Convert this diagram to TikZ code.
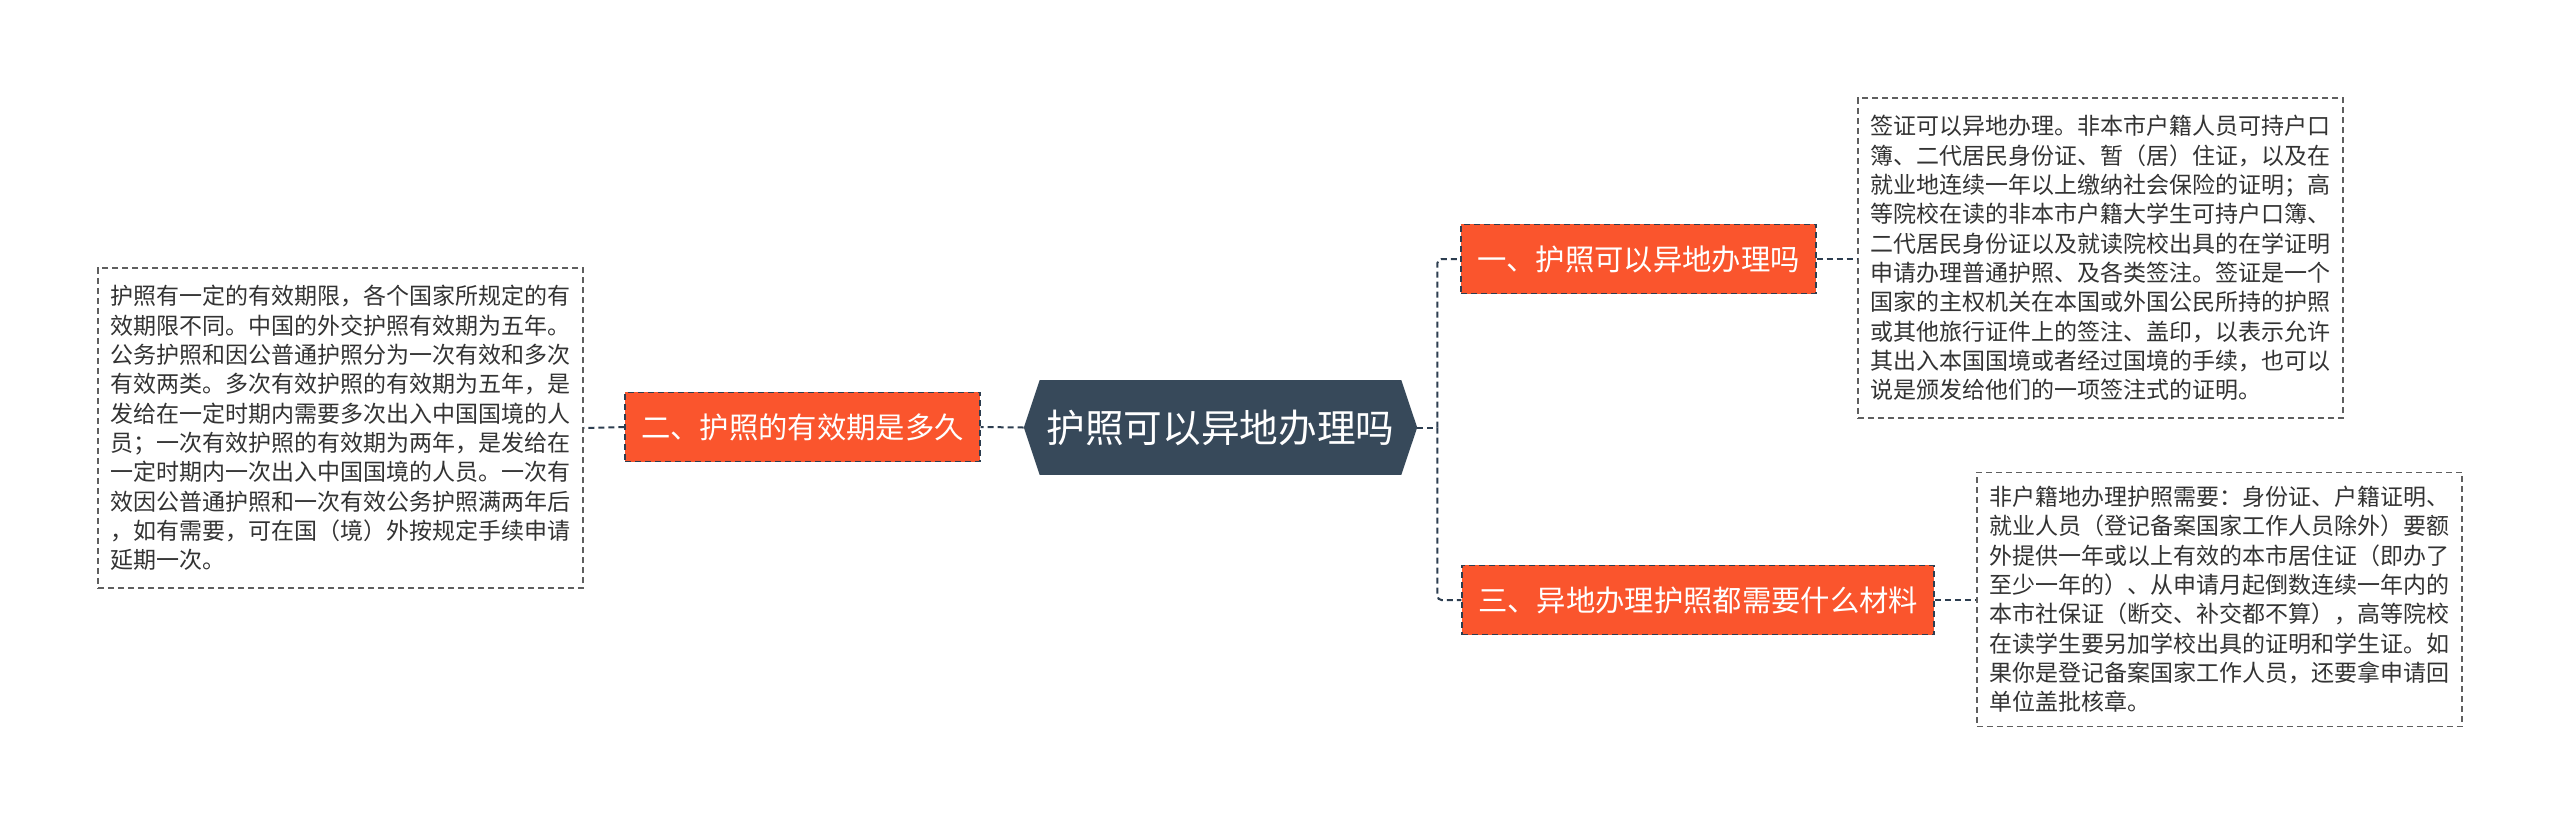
\documentclass[tikz,border=0pt]{standalone}
\usepackage{fontspec}
\newfontfamily\cjk{Noto Sans CJK SC}
\usepackage{xcolor}
\usepackage{tikz}
\usetikzlibrary{shapes.symbols}
\definecolor{topicdark}{RGB}{55,73,90}
\definecolor{branchorange}{RGB}{250,85,45}
\definecolor{linedark}{RGB}{45,62,80}
\definecolor{notegray}{RGB}{95,95,95}
\definecolor{notetext}{RGB}{51,51,51}
\tikzset{
  topic/.style={signal, signal to=west and east, signal pointer angle=143, fill=topicdark, text=white, minimum width=295pt, minimum height=71pt, inner sep=0pt, font=\cjk\fontsize{29pt}{34pt}\selectfont},
  branch/.style={rectangle, fill=branchorange, draw=linedark, dash pattern=on 4.5pt off 3pt, line width=1.1pt, text=white, minimum height=52pt, inner xsep=12pt, font=\cjk\fontsize{22pt}{26pt}\selectfont},
  note/.style={rectangle, draw=notegray, dash pattern=on 4.5pt off 3pt, line width=0.9pt, text=notetext, text width=345pt, align=left, inner xsep=9.4pt, font=\cjk\fontsize{17.25pt}{22pt}\selectfont},
  link/.style={draw=linedark, line width=1.5pt, dash pattern=on 4.5pt off 3pt},
}

\begin{document}
\begin{tikzpicture}[x=0.75pt, y=-0.75pt]
  \fill[white] (0,0) rectangle (2560,826);
  \useasboundingbox (0,0) rectangle (2560,826);

  % Center topic
  \node[topic] (topic) at (1220.5,427.5) {护照可以异地办理吗};

  % Branches
  \node[branch] (q1) at (1638.5,259) {一、护照可以异地办理吗};
  \node[branch] (q2) at (802.5,427) {二、护照的有效期是多久};
  \node[branch] (q3) at (1698,600) {三、异地办理护照都需要什么材料};

  % Notes
  \node[note, minimum height=240pt] (note1) at (2100.5,258) {%
    签证可以异地办理。非本市户籍人员可持户口\\
    簿、二代居民身份证、暂（居）住证，以及在\\
    就业地连续一年以上缴纳社会保险的证明；高\\
    等院校在读的非本市户籍大学生可持户口簿、\\
    二代居民身份证以及就读院校出具的在学证明\\
    申请办理普通护照、及各类签注。签证是一个\\
    国家的主权机关在本国或外国公民所持的护照\\
    或其他旅行证件上的签注、盖印，以表示允许\\
    其出入本国国境或者经过国境的手续，也可以\\
    说是颁发给他们的一项签注式的证明。};
  \node[note, minimum height=240pt] (note2) at (340.5,428) {%
    护照有一定的有效期限，各个国家所规定的有\\
    效期限不同。中国的外交护照有效期为五年。\\
    公务护照和因公普通护照分为一次有效和多次\\
    有效两类。多次有效护照的有效期为五年，是\\
    发给在一定时期内需要多次出入中国国境的人\\
    员；一次有效护照的有效期为两年，是发给在\\
    一定时期内一次出入中国国境的人员。一次有\\
    效因公普通护照和一次有效公务护照满两年后\\
    ，如有需要，可在国（境）外按规定手续申请\\
    延期一次。};
  \node[note, minimum height=191pt] (note3) at (2219.5,599.5) {%
    非户籍地办理护照需要：身份证、户籍证明、\\
    就业人员（登记备案国家工作人员除外）要额\\
    外提供一年或以上有效的本市居住证（即办了\\
    至少一年的）、从申请月起倒数连续一年内的\\
    本市社保证（断交、补交都不算），高等院校\\
    在读学生要另加学校出具的证明和学生证。如\\
    果你是登记备案国家工作人员，还要拿申请回\\
    单位盖批核章。};

  % Connectors
  \coordinate (trunk) at ([xshift=15pt]topic.east);
  \draw[link] (topic.east) -- (trunk);
  \draw[link, rounded corners=3pt] (trunk) |- (q1.west);
  \draw[link, rounded corners=3pt] (trunk) |- (q3.west);
  \draw[link] (topic.west) -- (q2.east);
  \draw[link] (q2.west) -- (note2.east);
  \draw[link] (q1.east) -- (q1.east -| note1.west);
  \draw[link] (q3.east) -- (q3.east -| note3.west);
\end{tikzpicture}
\end{document}
